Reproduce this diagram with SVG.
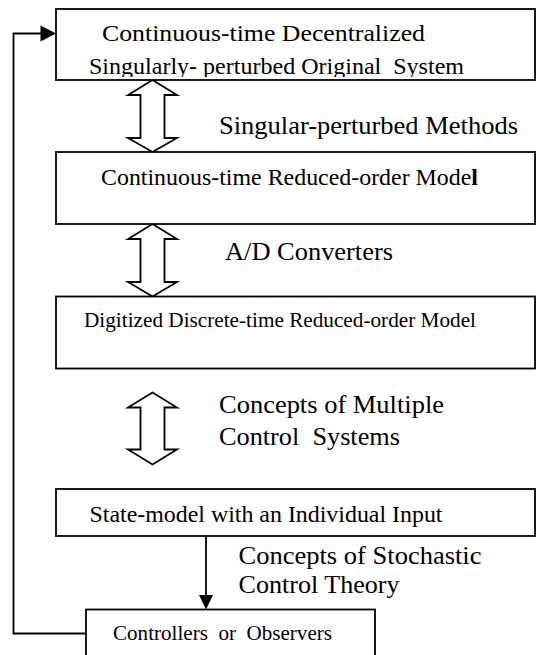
<svg xmlns="http://www.w3.org/2000/svg" width="536" height="655" viewBox="0 0 536 655">
  <style>
    .box { fill: #fff; stroke: #000; stroke-width: 1.8; }
    .dbl { fill: #fff; stroke: #000; stroke-width: 1.8; stroke-linejoin: miter; }
    .line { fill: none; stroke: #000; stroke-width: 1.8; }
    .head { fill: #000; stroke: none; }
    text { font-family: "Liberation Serif", "Times New Roman", serif; fill: #000; }
    .bt { font-size: 23px; }
    .st { font-size: 21px; }
    .lb { font-size: 26px; }
  </style>
  <defs>
    <clipPath id="clip1"><rect x="56" y="9" width="479" height="68"/></clipPath>
  </defs>
  <rect width="536" height="655" fill="#fff"/>

  <g id="connectors">
    <polygon class="dbl" points="152.5,80 177,95 164.5,95 164.5,138 177,138 152.5,152 128,138 140.5,138 140.5,95 128,95"/>
    <polygon class="dbl" points="152.5,224 177,239 164.5,239 164.5,282 177,282 152.5,296.5 128,282 140.5,282 140.5,239 128,239"/>
    <polygon class="dbl" points="152.5,392.5 177,407.5 164.5,407.5 164.5,449.5 177,449.5 152.5,464.5 128,449.5 140.5,449.5 140.5,407.5 128,407.5"/>
    <line class="line" x1="206" y1="536" x2="206" y2="596"/>
    <polygon class="head" points="199,595 213,595 206,609.5"/>
    <path class="line" d="M86,633.5 H13.5 V33.5 H42"/>
    <polygon class="head" points="40.5,25.5 56,33.5 40.5,41.5"/>
    <text class="lb" x="219" y="134" textLength="299" lengthAdjust="spacingAndGlyphs">Singular-perturbed Methods</text>
    <text class="lb" x="225" y="260" textLength="168" lengthAdjust="spacingAndGlyphs">A/D Converters</text>
    <text class="lb" x="219" y="413" textLength="225" lengthAdjust="spacingAndGlyphs">Concepts of Multiple</text>
    <text class="lb" x="219" y="445" textLength="181" lengthAdjust="spacingAndGlyphs" xml:space="preserve">Control  Systems</text>
    <text class="lb" x="238.5" y="564" textLength="243" lengthAdjust="spacingAndGlyphs">Concepts of Stochastic</text>
    <text class="lb" x="238.5" y="593" textLength="161" lengthAdjust="spacingAndGlyphs">Control Theory</text>
  </g>

  <g id="node1">
    <rect class="box" x="56" y="9" width="479" height="71"/>
    <g clip-path="url(#clip1)">
      <text class="bt" x="102" y="41" textLength="323" lengthAdjust="spacingAndGlyphs">Continuous-time Decentralized</text>
      <text class="bt" x="89" y="74" textLength="375" lengthAdjust="spacingAndGlyphs" xml:space="preserve">Singularly- perturbed Original  System</text>
    </g>
  </g>

  <g id="node2">
    <rect class="box" x="56" y="152" width="479" height="72"/>
    <text class="bt" x="101" y="185" textLength="377" lengthAdjust="spacingAndGlyphs">Continuous-time Reduced-order Mode<tspan font-weight="bold">l</tspan></text>
  </g>

  <g id="node3">
    <rect class="box" x="56" y="296.5" width="479" height="72"/>
    <text class="st" x="84" y="327" textLength="392" lengthAdjust="spacingAndGlyphs">Digitized Discrete-time Reduced-order Model</text>
  </g>

  <g id="node4">
    <rect class="box" x="56" y="489" width="479" height="47"/>
    <text class="bt" x="89.5" y="522" textLength="353" lengthAdjust="spacingAndGlyphs">State-model with an Individual Input</text>
  </g>

  <g id="node5">
    <rect class="box" x="86" y="609.5" width="289" height="60"/>
    <text class="st" x="113" y="640" textLength="219" lengthAdjust="spacingAndGlyphs" xml:space="preserve">Controllers  or  Observers</text>
  </g>
</svg>
